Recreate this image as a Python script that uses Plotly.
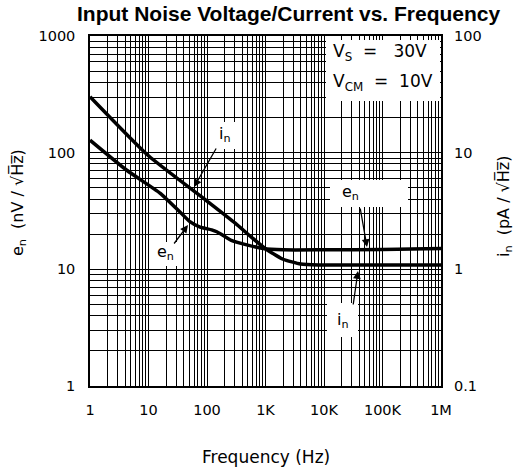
import plotly.graph_objects as go

# Input voltage noise (nV/rtHz) vs frequency (Hz)
en_freq = [1, 4.2, 15.7, 34.5, 51, 76, 120, 147, 190, 260, 478, 906, 2000, 10000, 100000, 1000000]
en_vals = [128, 71, 45, 31, 25.6, 23, 21.8, 21, 19.5, 17.7, 16.2, 15.1, 14.7, 14.7, 14.8, 15.1]

# Input current noise (pA/rtHz) vs frequency (Hz)
in_freq = [1, 10, 100, 300, 600, 1000, 2000, 4000, 8000, 100000, 1000000]
in_vals = [30.2, 9.4, 3.85, 2.5, 1.85, 1.5, 1.22, 1.11, 1.09, 1.09, 1.09]

x_ticks = [1, 10, 100, 1000, 10000, 100000, 1000000]
x_labels = ["1", "10", "100", "1K", "10K", "100K", "1M"]
y_ticks = [1, 10, 100, 1000]
y_labels = ["1", "10", "100", "1000"]
y2_ticks = [0.1, 1, 10, 100]
y2_labels = ["0.1", "1", "10", "100"]

TITLE = "Input Noise Voltage/Current vs. Frequency"
FONT = "DejaVu Sans"

W, H = 519, 470
L, R, T, B = 90, 441, 36, 386


def px(x):
    return (x - L) / (R - L)


def py(y):
    return (B - y) / (B - T)


x_minor = [d * 10 ** k for k in range(6) for d in range(2, 10)]
y_minor = [d * 10 ** k for k in range(3) for d in range(2, 10)]

fig = go.Figure()
fig.add_trace(go.Scatter(x=en_freq, y=en_vals, mode="lines", yaxis="y",
                         line=dict(color="black", width=3.5, shape="spline", smoothing=0.5),
                         showlegend=False))
fig.add_trace(go.Scatter(x=in_freq, y=in_vals, mode="lines", yaxis="y2",
                         line=dict(color="black", width=3.5, shape="spline", smoothing=0.5),
                         showlegend=False))

grid = dict(showgrid=True, gridcolor="black", gridwidth=1.3)
tick_font = dict(family=FONT, size=14.5, color="black")
fig.update_layout(
    width=W, height=H,
    margin=dict(l=L, r=W - R, t=T, b=H - B),
    paper_bgcolor="white", plot_bgcolor="white",
    font=dict(family=FONT, size=14, color="black"),
    xaxis=dict(type="log", range=[0, 6], tickvals=x_ticks, ticktext=x_labels,
               tickfont=tick_font,
               showline=True, linecolor="black", linewidth=1.5, mirror="allticks",
               ticks="inside", ticklen=3, tickcolor="black", ticklabelstandoff=10,
               zeroline=False, **grid,
               minor=dict(tickvals=x_minor, showgrid=True, gridcolor="black", gridwidth=1.3,
                          ticks="inside", ticklen=3, tickcolor="black")),
    yaxis=dict(type="log", range=[0, 3], tickvals=y_ticks, ticktext=y_labels,
               tickfont=tick_font,
               showline=True, linecolor="black", linewidth=1.5, mirror=True,
               ticks="", ticklabelstandoff=10, zeroline=False, **grid,
               minor=dict(tickvals=y_minor, showgrid=True, gridcolor="black", gridwidth=1.3)),
    yaxis2=dict(type="log", range=[-1, 2], overlaying="y", side="right",
                tickvals=y2_ticks, ticktext=y2_labels, tickfont=tick_font, showgrid=False,
                ticks="", ticklabelstandoff=12, zeroline=False),
)

# white panels behind the labels
boxes = [
    (326, 40, 440, 101),   # supply conditions
    (330, 180, 408, 207),  # e_n (right)
    (327, 303, 358, 337),  # i_n (right)
    (216, 122, 235, 149),  # i_n (left)
    (153, 242, 178, 266),  # e_n (left)
]
for x0, y0, x1, y1 in boxes:
    fig.add_shape(type="rect", xref="paper", yref="paper",
                  x0=px(x0), x1=px(x1), y0=py(y1), y1=py(y0),
                  fillcolor="white", line=dict(width=0), layer="above")

cond_font = dict(family=FONT, size=17, color="black")
fig.add_annotation(xref="paper", yref="paper", x=px(331), y=py(52), xanchor="left",
                   yanchor="middle", showarrow=False, font=cond_font,
                   text="V<sub>S</sub>  =   30V")
fig.add_annotation(xref="paper", yref="paper", x=px(331), y=py(82), xanchor="left",
                   yanchor="middle", showarrow=False, font=cond_font,
                   text="V<sub>CM</sub>  =  10V")

ann_font = dict(family=FONT, size=16, color="black")
labels = [
    ("i<sub>n</sub>", 225, 134),
    ("e<sub>n</sub>", 165, 252),
    ("e<sub>n</sub>", 350, 192),
    ("i<sub>n</sub>", 343, 320),
]
for txt, x, y in labels:
    fig.add_annotation(xref="paper", yref="paper", x=px(x), y=py(y), showarrow=False,
                       xanchor="center", yanchor="middle", font=ann_font, text=txt)

# arrows: (tail x, tail y, tip x, tip y)
arrows = [
    (217, 147, 194, 187),
    (173, 245, 188, 225),
    (360, 207, 367, 247),
    (353, 306, 358, 271),
]
for x0, y0, x1, y1 in arrows:
    fig.add_annotation(xref="paper", yref="paper", x=px(x1), y=py(y1),
                       ax=x0 - x1, ay=y0 - y1, text="", showarrow=True,
                       arrowhead=2, arrowsize=1.2, arrowwidth=1.3, arrowcolor="black")

fig.add_annotation(xref="paper", yref="paper", x=px(289), y=py(13),
                   xanchor="center", yanchor="middle",
                   showarrow=False, text="<b>" + TITLE + "</b>",
                   font=dict(family="Liberation Sans", size=21, color="black"))
fig.add_annotation(xref="paper", yref="paper", x=px(266), y=py(457),
                   xanchor="center", yanchor="middle",
                   showarrow=False, text="Frequency (Hz)", font=dict(family=FONT, size=17))
fig.add_annotation(xref="paper", yref="paper", x=px(19), y=py(203), textangle=-90,
                   xanchor="center", yanchor="middle",
                   showarrow=False, text="e<sub>n</sub>  (nV / √H\u0305z\u0305)",
                   font=dict(family=FONT, size=16))
fig.add_annotation(xref="paper", yref="paper", x=px(504), y=py(206), textangle=-90,
                   xanchor="center", yanchor="middle",
                   showarrow=False, text="i<sub>n</sub>  (pA / √H\u0305z\u0305)",
                   font=dict(family=FONT, size=16))

fig.write_html("out.html")
